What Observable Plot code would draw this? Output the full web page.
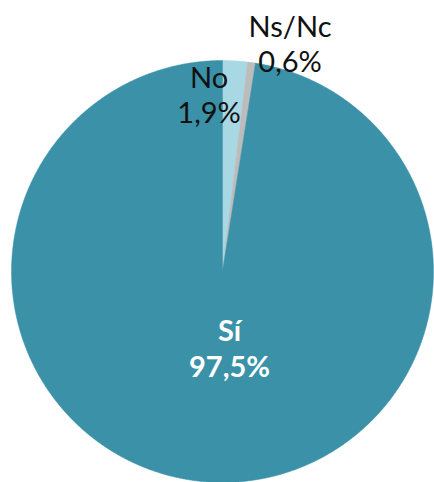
<!DOCTYPE html>
<html>
<head>
<meta charset="utf-8">
<script src="https://cdn.jsdelivr.net/npm/d3@7"></script>
<script src="https://cdn.jsdelivr.net/npm/@observablehq/plot@0.6"></script>
<style>
  html, body { margin: 0; padding: 0; background: #fff; }
  #chart svg { display: block; }
</style>
</head>
<body>
<div id="chart"></div>
<script>
// Data
const categories = ["No", "Ns/Nc", "Sí"];
const values = [1.9, 0.6, 97.5];
const labels = ["1,9%", "0,6%", "97,5%"];
const colors = ["#a8d8e3", "#bcbcbc", "#3a91a8"];

// Pie angles (clockwise from 12 o'clock) computed by d3.pie
const arcs = d3.pie().sort(null).value(d => d.value)(
  categories.map((c, i) => ({ name: c, value: values[i], label: labels[i] }))
);

// Slice outlines in data space (unit circle), sampled along the arc
const slicePoints = arcs.flatMap(a => {
  const pts = [{ name: a.data.name, x: 0, y: 0 }];
  const n = Math.max(4, Math.ceil((a.endAngle - a.startAngle) / (Math.PI / 720)));
  for (let k = 0; k <= n; k++) {
    const t = a.startAngle + (a.endAngle - a.startAngle) * k / n;
    pts.push({ name: a.data.name, x: Math.sin(t), y: Math.cos(t) });
  }
  pts.push({ name: a.data.name, x: 0, y: 0 });
  return pts;
});

const mid = a => (a.startAngle + a.endAngle) / 2;
const at = (a, r) => ({ x: r * Math.sin(mid(a)), y: r * Math.cos(mid(a)), text: a.data.name + "\n" + a.data.label });

const labNo = at(arcs[0], 0.84);
const labNs = at(arcs[1], 1.12);
const labSi = at(arcs[2], 0.36);

const chart = Plot.plot({
  width: 434,
  height: 482,
  marginLeft: 11,
  marginRight: 1,
  marginTop: 60,
  marginBottom: 0,
  x: { domain: [-1, 1], axis: null },
  y: { domain: [-1, 1], axis: null },
  color: { domain: categories, range: colors },
  style: { fontFamily: "Lato, sans-serif", background: "#fff", overflow: "visible" },
  marks: [
    Plot.line(slicePoints, { x: "x", y: "y", z: "name", fill: "name", stroke: "name", strokeWidth: 0.5, curve: "linear" }),
    Plot.text([labNo], { x: "x", y: "y", text: "text", fontSize: 29, lineHeight: 1.2, fill: "#111", dx: -24 }),
    Plot.text([labNs], { x: "x", y: "y", text: "text", fontSize: 29, lineHeight: 1.2, fill: "#111", dx: 35, dy: 6 }),
    Plot.text([labSi], { x: "x", y: "y", text: "text", fontSize: 29, lineHeight: 1.27, fill: "#fff", fontWeight: "bold", dx: 13 })
  ]
});

document.getElementById("chart").appendChild(chart);
</script>
</body>
</html>
